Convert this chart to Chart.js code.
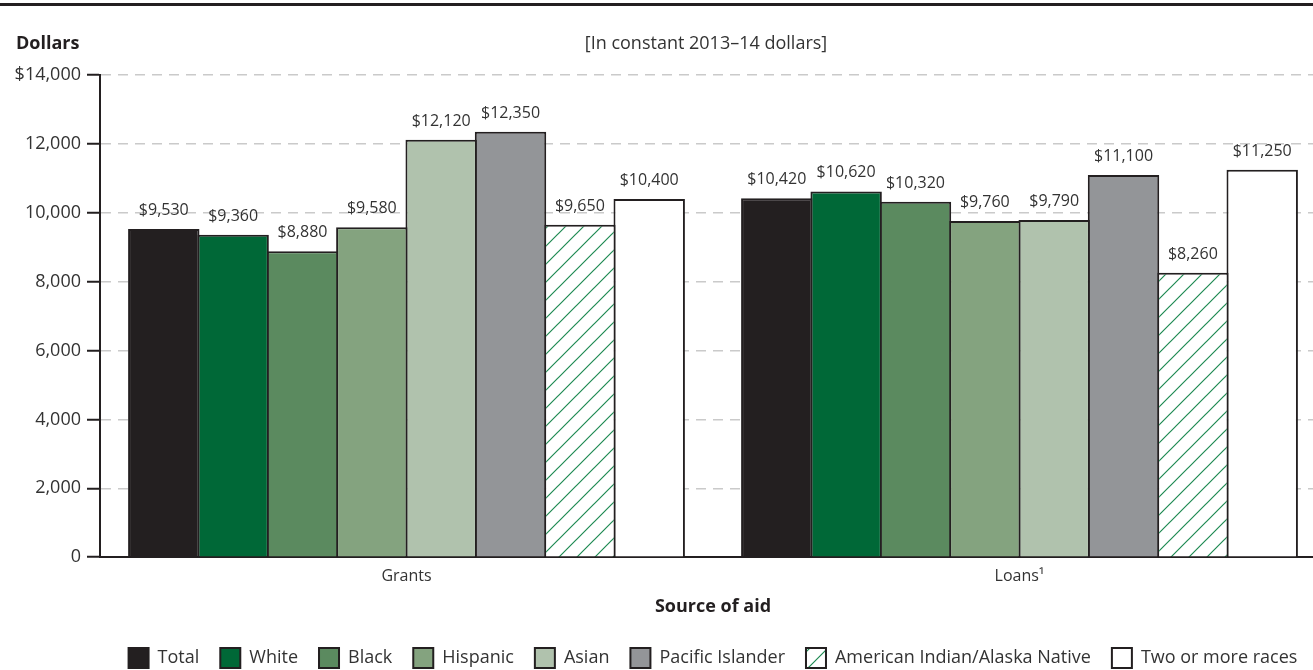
<!DOCTYPE html>
<html>
<head>
<meta charset="utf-8">
<script src="https://cdn.jsdelivr.net/npm/chart.js@4.4.0/dist/chart.umd.min.js"></script>
<style>
  html, body { margin: 0; padding: 0; background: #fff; overflow: hidden; }
  #wrap { width: 1313px; height: 670px; overflow: hidden; }
  #box { width: 1326px; height: 678px; position: relative; }
</style>
</head>
<body>
<div id="wrap"><div id="box"><canvas id="barChart"></canvas></div></div>
<script>
// data (constant 2013-14 dollars)
var categories = ['Grants', 'Loans\u00b9'];
var groups = ['Total', 'White', 'Black', 'Hispanic', 'Asian', 'Pacific Islander',
              'American Indian/Alaska Native', 'Two or more races'];

var total = [9530, 10420];
var white = [9360, 10620];
var black = [8880, 10320];
var hispanic = [9580, 9760];
var asian = [12120, 9790];
var pacificIslander = [12350, 11100];
var amIndianAlaska = [9650, 8260];
var twoOrMore = [10400, 11250];

var yMin = 0, yMax = 14000, yStep = 2000;

var seriesValues = [total, white, black, hispanic, asian, pacificIslander, amIndianAlaska, twoOrMore];

Chart.defaults.font.family = '"Open Sans", "DejaVu Sans", sans-serif';
Chart.defaults.color = '#2f2c2d';

// diagonal green hatch on white for the AIAN bars
function makeHatch() {
    var c = document.createElement('canvas');
    c.width = 18; c.height = 18;
    var g = c.getContext('2d');
    g.fillStyle = '#ffffff';
    g.fillRect(0, 0, 18, 18);
    g.strokeStyle = '#1e8a52';
    g.lineWidth = 1.2;
    g.beginPath();
    g.moveTo(0, 18); g.lineTo(18, 0);
    g.moveTo(-9, 9); g.lineTo(9, -9);
    g.moveTo(9, 27); g.lineTo(27, 9);
    g.stroke();
    return g.createPattern(c, 'repeat');
}

var fills = ['#231f20', '#006837', '#5b8a5f', '#84a37f', '#b0c2ad', '#939598', makeHatch(), '#ffffff'];

var datasets = groups.map(function (name, i) {
    return {
        label: name,
        data: seriesValues[i],
        backgroundColor: fills[i],
        borderColor: '#231f20',
        borderWidth: 2
    };
});

function fmtMoney(v) {
    return '$' + v.toLocaleString('en-US');
}

// value labels over each bar + header text and top rule
var barLabels = {
    id: 'barLabels',
    afterDatasetsDraw: function (chart) {
        var ctx = chart.ctx;
        ctx.save();
        ctx.font = '16px "Open Sans"';
        ctx.fillStyle = '#333';
        ctx.textAlign = 'center';
        ctx.textBaseline = 'alphabetic';
        chart.data.datasets.forEach(function (ds, i) {
            chart.getDatasetMeta(i).data.forEach(function (bar, j) {
                ctx.fillText(fmtMoney(ds.data[j]), bar.x, bar.y - 14);
            });
        });
        ctx.restore();
    },
    afterDraw: function (chart) {
        var ctx = chart.ctx;
        ctx.save();
        ctx.fillStyle = '#231f20';
        ctx.fillRect(0, 3, chart.width, 3);
        ctx.font = 'bold 18px "Open Sans"';
        ctx.textAlign = 'left';
        ctx.fillText('Dollars', 16, 44);
        ctx.font = '18px "Open Sans"';
        ctx.fillStyle = '#333';
        ctx.textAlign = 'center';
        ctx.fillText('[In constant 2013\u201314 dollars]', 706, 44);
        ctx.restore();
    }
};

var ctx = document.getElementById('barChart').getContext('2d');
var barChart = new Chart(ctx, {
    type: 'bar',
    data: {
        labels: categories,
        datasets: datasets
    },
    options: {
        responsive: true,
        maintainAspectRatio: false,
        animation: false,
        categoryPercentage: 0.905,
        barPercentage: 1.03,
        layout: {
            padding: { top: 75, left: 0, right: 0, bottom: 0 }
        },
        plugins: {
            tooltip: { enabled: false },
            legend: {
                position: 'bottom',
                fullSize: false,
                labels: {
                    boxWidth: 20,
                    boxHeight: 20,
                    padding: 21,
                    color: '#333',
                    font: { size: 18 }
                }
            }
        },
        scales: {
            x: {
                grid: { display: false, drawTicks: false },
                border: { display: true, color: '#231f20', width: 2 },
                ticks: { color: '#333', font: { size: 16 }, padding: 10 },
                title: {
                    display: true,
                    text: 'Source of aid',
                    color: '#231f20',
                    font: { size: 18, weight: 'bold' },
                    padding: { top: 0, bottom: 9 }
                }
            },
            y: {
                min: yMin,
                max: yMax,
                afterFit: function (scale) { scale.width = 100; },
                ticks: {
                    stepSize: yStep,
                    color: '#333',
                    font: { size: 18 },
                    padding: 6,
                    callback: function (v) {
                        return v === yMax ? fmtMoney(v) : v.toLocaleString('en-US');
                    }
                },
                grid: {
                    color: function (c) {
                        return c.tick && c.tick.value === 0 ? 'rgba(0,0,0,0)' : '#cacaca';
                    },
                    lineWidth: 1.5,
                    tickColor: '#231f20',
                    tickLength: 13,
                    tickWidth: 2,
                    tickBorderDash: []
                },
                border: { display: true, color: '#231f20', width: 2, dash: [10, 7] }
            }
        }
    },
    plugins: [barLabels]
});
</script>
</body>
</html>
